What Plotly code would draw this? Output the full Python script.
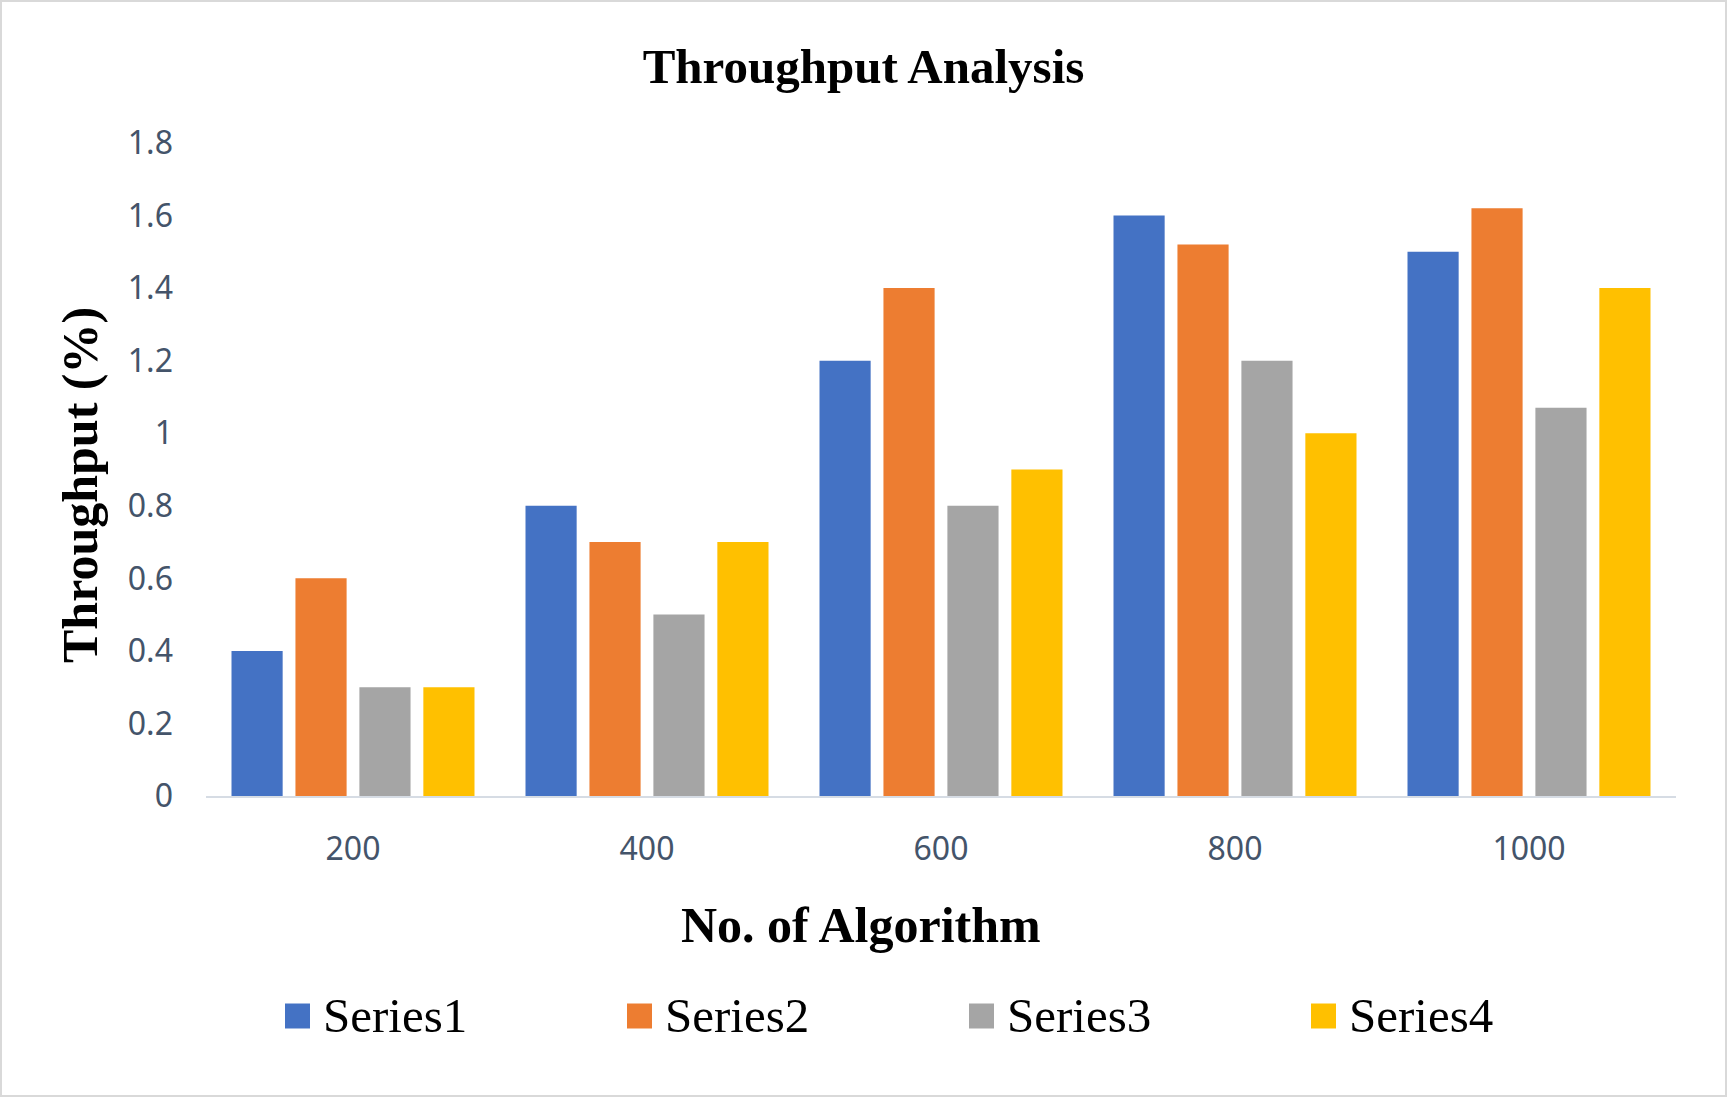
import plotly.graph_objects as go

# Data
CATEGORIES = ['200', '400', '600', '800', '1000']
SERIES_NAMES = ['Series1', 'Series2', 'Series3', 'Series4']
SERIES1 = [0.4, 0.8, 1.2, 1.6, 1.5]
SERIES2 = [0.6, 0.7, 1.4, 1.52, 1.62]
SERIES3 = [0.3, 0.5, 0.8, 1.2, 1.07]
SERIES4 = [0.3, 0.7, 0.9, 1.0, 1.4]
Y_TICKS = [0, 0.2, 0.4, 0.6, 0.8, 1, 1.2, 1.4, 1.6, 1.8]
Y_TICK_TEXT = ['0', '0.2', '0.4', '0.6', '0.8', '1', '1.2', '1.4', '1.6', '1.8']

COLORS = ['#4472C4', '#ED7D31', '#A5A5A5', '#FFC000']

# Figure geometry (pixels)
W, H = 1727, 1097
L, R, T, B = 206, 51, 143, 301
PW, PH = W - L - R, H - T - B


def px_x(x):
    """pixel x -> paper x"""
    return (x - L) / PW


def px_y(y):
    """pixel y (from top) -> paper y"""
    return (H - B - y) / PH


SERIF = 'Liberation Serif, Times New Roman, serif'
SANS = 'Noto Sans, Open Sans, sans-serif'

fig = go.Figure()
for name, vals, color in zip(SERIES_NAMES, [SERIES1, SERIES2, SERIES3, SERIES4], COLORS):
    fig.add_trace(go.Bar(
        name=name,
        x=CATEGORIES,
        y=vals,
        marker=dict(color=color, line=dict(width=0)),
        showlegend=False,
    ))

fig.update_layout(
    width=W,
    height=H,
    barmode='group',
    bargap=0.13,
    bargroupgap=0.2,
    plot_bgcolor='white',
    paper_bgcolor='white',
    margin=dict(l=L, r=R, t=T, b=B),
    title=dict(
        text='<b>Throughput Analysis</b>',
        x=0.5, xanchor='center',
        y=1 - 66 / H, yanchor='middle', yref='container',
        font=dict(family=SERIF, size=49, color='black'),
    ),
    xaxis=dict(
        type='category',
        showgrid=False,
        showline=True,
        linecolor='#D6DCE4',
        linewidth=2,
        ticks='',
        ticklabelstandoff=24,
        tickfont=dict(family=SANS, size=32, color='#44546A'),
    ),
    yaxis=dict(
        range=[0, 1.8],
        tickvals=Y_TICKS,
        ticktext=Y_TICK_TEXT,
        showgrid=False,
        zeroline=False,
        showline=False,
        ticks='',
        ticklabelstandoff=32,
        tickfont=dict(family=SANS, size=32, color='#44546A'),
    ),
)

# Axis titles
fig.add_annotation(
    text='<b>No. of Algorithm</b>', xref='paper', yref='paper',
    x=px_x(861), y=px_y(925), xanchor='center', yanchor='middle',
    showarrow=False, font=dict(family=SERIF, size=50, color='black'),
)
fig.add_annotation(
    text='<b>Throughput (%)</b>', xref='paper', yref='paper',
    x=px_x(80), y=px_y(485), xanchor='center', yanchor='middle',
    textangle=-90, showarrow=False, font=dict(family=SERIF, size=50, color='black'),
)

# Legend drawn below the axis title
leg_left, leg_step, sw = 285, 342, 25
leg_cy = 1016
for i, (name, color) in enumerate(zip(SERIES_NAMES, COLORS)):
    x0 = leg_left + i * leg_step
    fig.add_shape(
        type='rect', xref='paper', yref='paper',
        x0=px_x(x0), x1=px_x(x0 + sw),
        y0=px_y(leg_cy + sw / 2), y1=px_y(leg_cy - sw / 2),
        fillcolor=color, line=dict(width=0),
    )
    fig.add_annotation(
        text=name, xref='paper', yref='paper',
        x=px_x(x0 + 36), y=px_y(leg_cy), xanchor='left', yanchor='middle',
        showarrow=False, font=dict(family=SERIF, size=49, color='black'),
    )

# Light border around the chart
fig.add_shape(
    type='rect', xref='paper', yref='paper',
    x0=px_x(1), x1=px_x(W - 1), y0=px_y(H - 1), y1=px_y(1),
    line=dict(color='#D9D9D9', width=2), fillcolor='rgba(0,0,0,0)',
)

# drop the default page margin so the chart sits at the top-left corner
fig.write_html('out.html', config={'displayModeBar': False},
               post_script="document.body.style.margin='0';")
